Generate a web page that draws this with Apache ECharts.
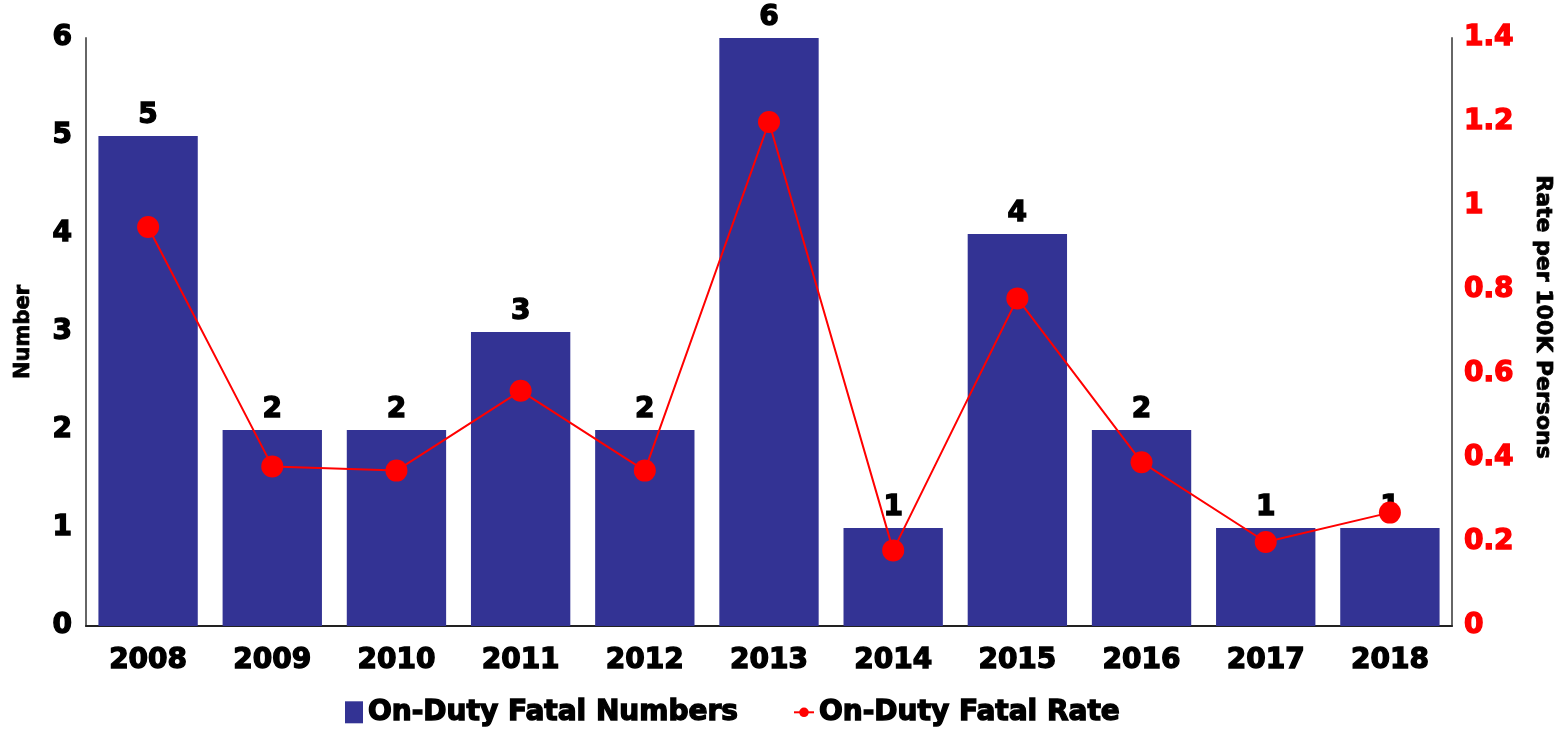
<!DOCTYPE html>
<html><head><meta charset="utf-8">
<script src="https://cdn.jsdelivr.net/npm/echarts@6/dist/echarts.min.js"></script>
<style>html,body{margin:0;padding:0;background:#fff}#c{width:1560px;height:729px}</style>
</head><body><div id="c"></div>
<script>
var years = ['2008','2009','2010','2011','2012','2013','2014','2015','2016','2017','2018'];
var fatalNumbers = [5,2,2,3,2,6,1,4,2,1,1];
var fatalRate = [0.95,0.38,0.37,0.56,0.37,1.20,0.18,0.78,0.39,0.20,0.27];
var leftTicks = [0,1,2,3,4,5,6];
var rightTicks = [0,0.2,0.4,0.6,0.8,1,1.2,1.4];

var F = '"DejaVu Sans", Verdana, sans-serif';
var lbl = function(size,color,bw){return {fontFamily:F,fontWeight:'bold',fontSize:size,color:color,textBorderColor:color,textBorderWidth:bw};};
var chart = echarts.init(document.getElementById('c'));
chart.setOption({
  animation:false,
  grid:{left:86,right:108,top:38,bottom:103,outerBoundsMode:'none'},
  legend:[{
    left:340, bottom:-3, itemWidth:18, itemHeight:22, itemGap:10,
    textStyle:lbl(28,'#000',1.4),
    data:[{name:'On-Duty Fatal Numbers',icon:'rect'}]
  },{
    left:788, bottom:-3, itemWidth:20, itemHeight:12,
    textStyle:lbl(28,'#000',1.4),
    data:[{name:'On-Duty Fatal Rate'}]
  }],
  xAxis:{
    type:'category', data:years,
    axisLine:{lineStyle:{color:'#222',width:2}},
    axisTick:{show:false},
    axisLabel:Object.assign({margin:21},lbl(28,'#000',1.4))
  },
  yAxis:[{
    type:'value', min:0, max:6, interval:1,
    name:'Number', nameLocation:'middle', nameGap:52, nameRotate:90,
    nameTextStyle:lbl(21,'#000',0.8),
    axisLine:{show:true,lineStyle:{color:'#666',width:2}},
    axisTick:{show:false}, splitLine:{show:false},
    axisLabel:Object.assign({margin:14,
      formatter:function(v){return leftTicks.indexOf(v)>=0?String(v):'';}},lbl(28,'#000',1.4))
  },{
    type:'value', min:0, max:1.4, interval:0.2, position:'right',
    name:'Rate per 100K Persons', nameLocation:'middle', nameGap:80, nameRotate:-90,
    nameTextStyle:Object.assign({padding:[0,30,0,0]},lbl(22,'#000',0.8)),
    axisLine:{show:true,lineStyle:{color:'#666',width:2}},
    axisTick:{show:false}, splitLine:{show:false},
    axisLabel:Object.assign({margin:12,
      formatter:function(v){return String(Math.round(v*10)/10);}},lbl(28,'#ff0000',1.4))
  }],
  series:[{
    name:'On-Duty Fatal Numbers', type:'bar', data:fatalNumbers, yAxisIndex:0,
    barCategoryGap:'20%',
    itemStyle:{color:'#333394'},
    label:Object.assign({show:true,position:'top',distance:6},lbl(28,'#000',1.4))
  },{
    name:'On-Duty Fatal Rate', type:'line', data:fatalRate, yAxisIndex:1,
    symbol:'circle', symbolSize:22,
    lineStyle:{color:'#ff0000',width:2},
    itemStyle:{color:'#ff0000'}
  }]
});
</script></body></html>
